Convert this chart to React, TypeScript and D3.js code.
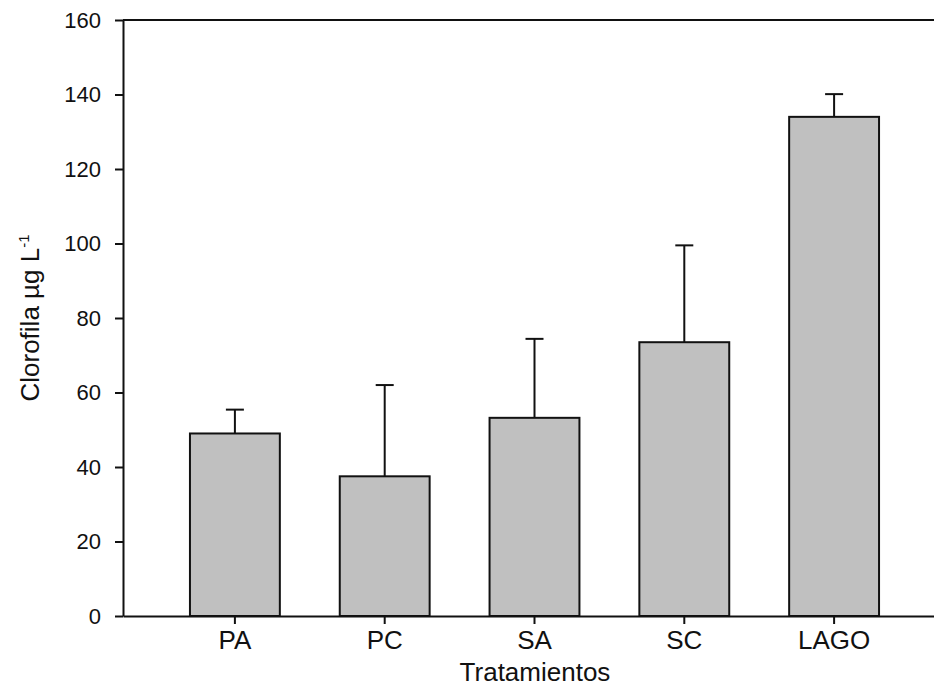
import { useEffect, useRef } from "react"
import * as d3 from "d3"

const categories = ["PA", "PC", "SA", "SC", "LAGO"]
const means = [49, 37.5, 53.2, 73.5, 134]
const errTops = [55.4, 62, 74.4, 99.5, 140.1]
const yTicks = [0, 20, 40, 60, 80, 100, 120, 140, 160]

export default function App() {
  const ref = useRef<SVGSVGElement | null>(null)

  useEffect(() => {
    const svg = d3.select(ref.current)
    svg.selectAll("*").remove()

    const width = 934
    const height = 687
    const margin = { top: 20, left: 123, bottom: 616 }
    const font = "Arial, 'Liberation Sans', sans-serif"

    svg.attr("width", width).attr("height", height)

    const x = d3.scaleBand()
      .domain(categories)
      .range([margin.left, 946])
      .paddingInner(0.4)
      .paddingOuter(0.447)

    const y = d3.scaleLinear()
      .domain([0, 160])
      .range([margin.bottom, margin.top])

    // bars
    svg.append("g")
      .selectAll("rect")
      .data(means)
      .enter()
      .append("rect")
      .attr("x", (d, i) => x(categories[i])!)
      .attr("y", d => y(d))
      .attr("width", x.bandwidth())
      .attr("height", d => y(0) - y(d))
      .attr("fill", "#c0c0c0")
      .attr("stroke", "#111")
      .attr("stroke-width", 2)

    // error bars (upper only)
    const eb = svg.append("g").attr("stroke", "#111").attr("stroke-width", 2)
    means.forEach((m, i) => {
      const cx = x(categories[i])! + x.bandwidth() / 2
      eb.append("line")
        .attr("x1", cx).attr("x2", cx)
        .attr("y1", y(m)).attr("y2", y(errTops[i]))
      eb.append("line")
        .attr("x1", cx - 9).attr("x2", cx + 9)
        .attr("y1", y(errTops[i])).attr("y2", y(errTops[i]))
    })

    // Y Axis
    const yAxis = svg.append("g")
      .attr("transform", `translate(${margin.left},0)`)
      .call(d3.axisLeft(y).tickValues(yTicks).tickSize(8).tickPadding(14).tickSizeOuter(0))
    yAxis.select(".domain").attr("stroke", "#111").attr("stroke-width", 2)
    yAxis.selectAll(".tick line").attr("stroke", "#111").attr("stroke-width", 2)
    yAxis.selectAll("text")
      .attr("fill", "#111")
      .style("font-family", font)
      .style("font-size", "22px")

    // X Axis
    const xAxis = svg.append("g")
      .attr("transform", `translate(0,${margin.bottom})`)
      .call(d3.axisBottom(x).tickSize(8).tickPadding(7).tickSizeOuter(0))
    xAxis.select(".domain").attr("stroke", "#111").attr("stroke-width", 2)
    xAxis.selectAll(".tick line").attr("stroke", "#111").attr("stroke-width", 2)
    xAxis.selectAll("text")
      .attr("fill", "#111")
      .style("font-family", font)
      .style("font-size", "26px")

    // top frame line
    svg.append("line")
      .attr("x1", margin.left).attr("x2", width)
      .attr("y1", y(160)).attr("y2", y(160))
      .attr("stroke", "#111").attr("stroke-width", 2)

    // axis titles
    svg.append("text")
      .attr("x", 535)
      .attr("y", 681)
      .attr("text-anchor", "middle")
      .attr("fill", "#111")
      .style("font-family", font)
      .style("font-size", "26px")
      .text("Tratamientos")

    const yt = svg.append("text")
      .attr("transform", "translate(39,318) rotate(-90)")
      .attr("text-anchor", "middle")
      .attr("fill", "#111")
      .style("font-family", font)
      .style("font-size", "26px")
    yt.append("tspan").text("Clorofila µg L")
    yt.append("tspan")
      .attr("dy", -10)
      .style("font-size", "15px")
      .text("-1")
  }, [])

  return <svg ref={ref} style={{ position: "absolute", left: 0, top: 0, background: "#fff" }} />
}
